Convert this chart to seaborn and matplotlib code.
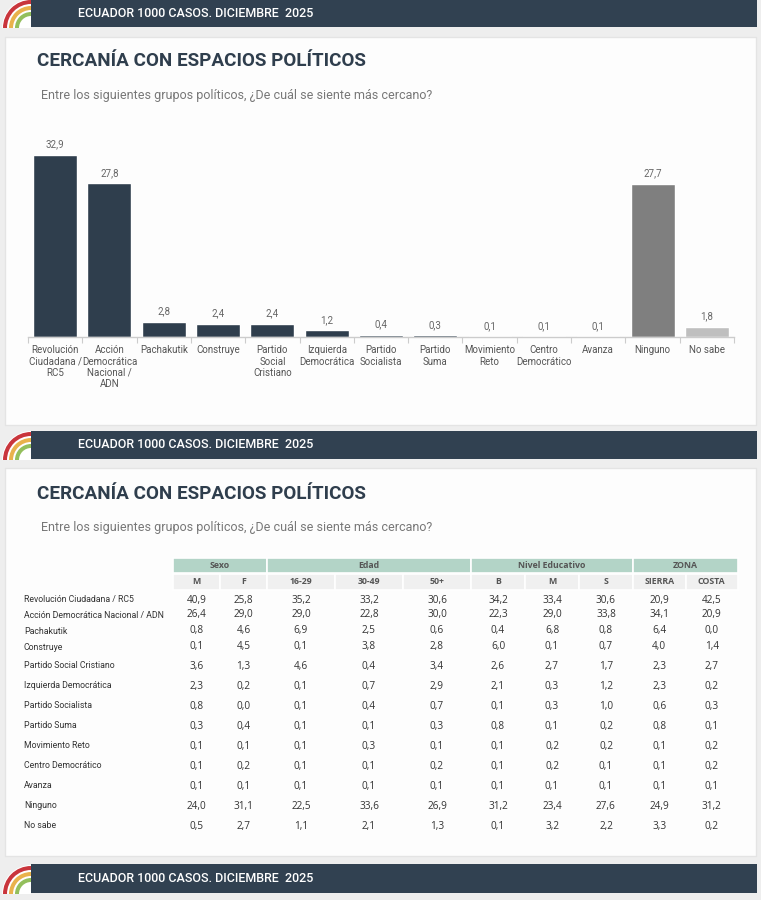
import matplotlib
matplotlib.use("Agg")
import matplotlib.pyplot as plt
from matplotlib.patches import Rectangle, Wedge
import pandas as pd
import seaborn as sns

sns.set_theme(style="white")
plt.rcParams['font.family'] = ['Roboto', 'DejaVu Sans']

# --- datos ---
partidos = ["Revolución Ciudadana / RC5", "Acción Democrática Nacional / ADN",
            "Pachakutik", "Construye", "Partido Social Cristiano",
            "Izquierda Democrática", "Partido Socialista", "Partido Suma",
            "Movimiento Reto", "Centro Democrático", "Avanza", "Ninguno", "No sabe"]
etiquetas = ["Revolución\nCiudadana /\nRC5", "Acción\nDemocrática\nNacional /\nADN",
             "Pachakutik", "Construye", "Partido\nSocial\nCristiano",
             "Izquierda\nDemocrática", "Partido\nSocialista", "Partido\nSuma",
             "Movimiento\nReto", "Centro\nDemocrático", "Avanza", "Ninguno", "No sabe"]
total = [32.9, 27.8, 2.8, 2.4, 2.4, 1.2, 0.4, 0.3, 0.1, 0.1, 0.1, 27.7, 1.8]

grupos = ["Sexo", "Edad", "Nivel Educativo", "ZONA"]
grupo_ncols = [2, 3, 3, 2]
columnas = ["M", "F", "16-29", "30-49", "50+", "B", "M", "S", "SIERRA", "COSTA"]

sexo_m = [40.9, 26.4, 0.8, 0.1, 3.6, 2.3, 0.8, 0.3, 0.1, 0.1, 0.1, 24.0, 0.5]
sexo_f = [25.8, 29.0, 4.6, 4.5, 1.3, 0.2, 0.0, 0.4, 0.1, 0.2, 0.1, 31.1, 2.7]
edad_16_29 = [35.2, 29.0, 6.9, 0.1, 4.6, 0.1, 0.1, 0.1, 0.1, 0.1, 0.1, 22.5, 1.1]
edad_30_49 = [33.2, 22.8, 2.5, 3.8, 0.4, 0.7, 0.4, 0.1, 0.3, 0.1, 0.1, 33.6, 2.1]
edad_50 = [30.6, 30.0, 0.6, 2.8, 3.4, 2.9, 0.7, 0.3, 0.1, 0.2, 0.1, 26.9, 1.3]
edu_b = [34.2, 22.3, 0.4, 6.0, 2.6, 2.1, 0.1, 0.8, 0.1, 0.1, 0.1, 31.2, 0.1]
edu_m = [33.4, 29.0, 6.8, 0.1, 2.7, 0.3, 0.3, 0.1, 0.2, 0.2, 0.1, 23.4, 3.2]
edu_s = [30.6, 33.8, 0.8, 0.7, 1.7, 1.2, 1.0, 0.2, 0.2, 0.1, 0.1, 27.6, 2.2]
zona_sierra = [20.9, 34.1, 6.4, 4.0, 2.3, 2.3, 0.6, 0.8, 0.1, 0.1, 0.1, 24.9, 3.3]
zona_costa = [42.5, 20.9, 0.0, 1.4, 2.7, 0.2, 0.3, 0.1, 0.2, 0.2, 0.1, 31.2, 0.2]
tabla = [sexo_m, sexo_f, edad_16_29, edad_30_49, edad_50,
         edu_b, edu_m, edu_s, zona_sierra, zona_costa]

# --- estilo ---
AZUL = "#2f3e4d"
BANNER = "#314151"
TEAL = "#b3d4c7"
GRIS_HDR = "#f0f0f0"
W, H = 761, 900


def fmt(v):
    return f"{v:.1f}".replace(".", ",")


def px_box(x, y, w, h):
    # caja en pixeles (origen arriba-izquierda) -> coords de figura
    return [x / W, 1 - (y + h) / H, w / W, h / H]


fig = plt.figure(figsize=(W / 100, H / 100), dpi=100, facecolor="#eeeeee")
bg = fig.add_axes([0, 0, 1, 1])
bg.set_xlim(0, W)
bg.set_ylim(H, 0)
bg.axis("off")

# paneles blancos
for y0 in [37, 468]:
    bg.add_patch(Rectangle((5, y0), 751, 388, facecolor="#fdfdfd",
                           edgecolor="#e4e4e4", lw=1))

# franjas con logo
for y0, h in [(0, 27), (431, 28), (864, 29)]:
    bg.add_patch(Rectangle((31, y0), 726, h, facecolor=BANNER, lw=0))
    cy = y0 + h + 1
    bg.add_patch(Wedge((31, cy), 29, 180, 270, facecolor="white", lw=0))
    for r, col in [(28, "#c9353c"), (22, "#e9b24c"), (16, "#93bf5c")]:
        bg.add_patch(Wedge((31, cy), r, 180, 270, width=4, facecolor=col, lw=0))
    bg.text(78, y0 + h / 2, "ECUADOR 1000 CASOS. DICIEMBRE  2025", color="white",
            fontsize=9, weight="medium", va="center", ha="left")

titulo = "CERCANÍA CON ESPACIOS POLÍTICOS"
pregunta = "Entre los siguientes grupos políticos, ¿De cuál se siente más cercano?"
for ty, sy in [(61, 96), (494, 528)]:
    bg.text(37, ty, titulo, fontsize=13.6, weight="bold", color=AZUL, va="center")
    bg.text(41, sy, pregunta, fontsize=9, color="#777777", va="center")

# --- grafico de barras ---
df = pd.DataFrame({"partido": partidos, "pct": total})
colores = {p: AZUL for p in partidos}
colores["Ninguno"] = "#7f7f7f"
colores["No sabe"] = "#bfbfbf"

ymax = 35
ax = fig.add_axes(px_box(28, 337 - ymax * 5.53, 706, ymax * 5.53))
ax.set_facecolor("none")
sns.barplot(data=df, x="partido", y="pct", hue="partido", order=partidos,
            hue_order=partidos, palette=colores, legend=False, dodge=False,
            width=0.81, saturation=1, ax=ax)
for c in ax.containers:
    ax.bar_label(c, labels=[fmt(v) for v in c.datavalues], padding=4,
                 fontsize=7, color="#666666")
ax.set_xlim(-0.5, len(partidos) - 0.5)
ax.set_ylim(0, ymax)
ax.set_xticks(range(len(partidos)))
ax.set_xticklabels(etiquetas, fontsize=7, color="#555555", linespacing=1.15)
ax.set_xticks([i - 0.5 for i in range(len(partidos) + 1)], minor=True)
ax.tick_params(axis="x", which="major", length=0, pad=6)
ax.tick_params(axis="x", which="minor", length=4, width=0.8, color="#cccccc",
               direction="out", bottom=True)
ax.set_yticks([])
ax.set_xlabel("")
ax.set_ylabel("")
for s in ["top", "right", "left"]:
    ax.spines[s].set_visible(False)
ax.spines["bottom"].set_color("#cccccc")
ax.spines["bottom"].set_linewidth(1)

# --- tabla ---
tx = fig.add_axes([0, 0, 1, 1])
tx.set_xlim(0, W)
tx.set_ylim(H, 0)
tx.axis("off")
tx.patch.set_visible(False)

col_w = [47, 47, 68, 68, 68, 54, 54, 54, 52.5, 52.5]
x_ini = 173
bordes = [x_ini]
for w in col_w:
    bordes.append(bordes[-1] + w)

# fila de grupos
k = 0
for g, n in zip(grupos, grupo_ncols):
    xa, xb = bordes[k], bordes[k + n]
    tx.add_patch(Rectangle((xa, 558), xb - xa, 15, facecolor=TEAL,
                           edgecolor="white", lw=1.2))
    tx.text((xa + xb) / 2, 565.5, g, fontsize=6.3, weight="bold",
            color="#555555", ha="center", va="center",
            family=["Open Sans", "DejaVu Sans"])
    k += n

# fila de subcolumnas
for i, c in enumerate(columnas):
    xa, xb = bordes[i], bordes[i + 1]
    tx.add_patch(Rectangle((xa, 574), xb - xa, 16, facecolor=GRIS_HDR,
                           edgecolor="white", lw=1.2))
    tx.text((xa + xb) / 2, 582, c, fontsize=6.3, weight="bold",
            color="#555555", ha="center", va="center",
            family=["Open Sans", "DejaVu Sans"])

saltos = [0, 15, 16, 16, 19, 20, 20, 20, 20, 20, 20, 20, 20]
fila_y = []
y = 600
for s in saltos:
    y += s
    fila_y.append(y)

for j, p in enumerate(partidos):
    tx.text(24, fila_y[j], p, fontsize=6.3, color="#333333", ha="left", va="center")
    for i, serie in enumerate(tabla):
        xc = (bordes[i] + bordes[i + 1]) / 2
        tx.text(xc, fila_y[j], fmt(serie[j]), fontsize=7.2, color="#333333",
                ha="center", va="center", family=["Open Sans", "DejaVu Sans"])

fig.savefig("out.png", dpi=100, facecolor=fig.get_facecolor())
